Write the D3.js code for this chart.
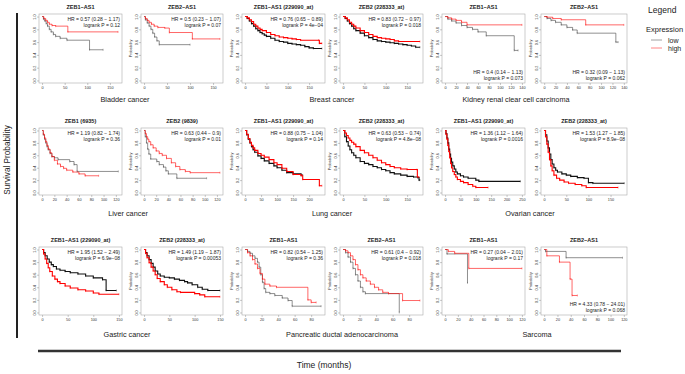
<!DOCTYPE html>
<html>
<head>
<meta charset="utf-8">
<script src="https://cdn.jsdelivr.net/npm/d3@7/dist/d3.min.js"></script>
<style>
  body { margin: 0; background: #fff; }
  svg { font-family: "Liberation Sans", Arial, sans-serif; }
</style>
</head>
<body>
<svg width="685" height="374"></svg>
<script>
// ---- data: [months, survival probability] step points, low vs high expression ----
const bladder1Low  = [[0,1],[3,0.96],[6,0.93],[9,0.89],[12,0.85],[16,0.8],[20,0.76],[25,0.72],[30,0.69],[40,0.66],[55,0.63],[105,0.48],[135,0.48]];
const bladder1High = [[0,1],[4,0.97],[8,0.94],[12,0.91],[16,0.88],[22,0.86],[30,0.85],[57,0.76],[168,0.76]];
const bladder2Low  = [[0,1],[3,0.95],[7,0.9],[11,0.85],[15,0.8],[19,0.74],[23,0.68],[28,0.62],[33,0.56],[100,0.56]];
const bladder2High = [[0,1],[3,0.97],[7,0.94],[11,0.91],[16,0.88],[22,0.85],[30,0.83],[45,0.82],[55,0.75],[105,0.65],[165,0.65]];

const breast1Low  = [[0,1],[5,0.97],[10,0.93],[15,0.89],[20,0.85],[25,0.81],[30,0.78],[35,0.75],[40,0.73],[45,0.71],[50,0.69],[60,0.66],[70,0.63],[80,0.61],[90,0.6],[100,0.58],[110,0.57],[120,0.56],[130,0.55],[140,0.53],[150,0.51],[160,0.5],[180,0.5]];
const breast1High = [[0,1],[5,0.98],[10,0.95],[15,0.92],[20,0.88],[25,0.85],[30,0.82],[35,0.8],[40,0.78],[50,0.75],[60,0.72],[70,0.7],[80,0.68],[90,0.67],[100,0.66],[110,0.65],[120,0.64],[130,0.63],[172,0.63],[174,0.58],[180,0.58]];
const breast2Low  = [[0,1],[5,0.97],[10,0.93],[15,0.89],[20,0.85],[25,0.81],[30,0.78],[40,0.74],[50,0.7],[60,0.67],[70,0.64],[80,0.62],[90,0.61],[100,0.6],[110,0.59],[120,0.58],[130,0.57],[140,0.56],[150,0.55],[160,0.54],[170,0.52],[180,0.52]];
const breast2High = [[0,1],[5,0.98],[10,0.95],[15,0.91],[20,0.88],[25,0.85],[30,0.82],[40,0.78],[50,0.75],[60,0.72],[70,0.69],[80,0.67],[90,0.66],[100,0.65],[110,0.64],[120,0.62],[130,0.61],[180,0.61]];

const kidney1Low  = [[0,1],[5,0.96],[12,0.93],[20,0.9],[30,0.86],[40,0.83],[50,0.8],[60,0.76],[75,0.7],[126,0.47],[133,0.47]];
const kidney1High = [[0,1],[5,0.98],[12,0.96],[20,0.94],[30,0.91],[40,0.87],[140,0.87]];
const kidney2Low  = [[0,1],[5,0.97],[12,0.94],[20,0.91],[30,0.87],[40,0.83],[50,0.79],[58,0.74],[126,0.6],[130,0.6]];
const kidney2High = [[0,1],[5,0.99],[15,0.97],[30,0.95],[73,0.87],[140,0.87]];

const liver1Low  = [[0,1],[2,0.93],[4,0.86],[6,0.8],[8,0.74],[10,0.69],[13,0.63],[16,0.58],[20,0.56],[26,0.53],[45,0.5],[52,0.45],[57,0.34],[124,0.34]];
const liver1High = [[0,1],[2,0.94],[4,0.88],[6,0.82],[8,0.76],[10,0.7],[13,0.64],[16,0.58],[20,0.52],[25,0.46],[30,0.42],[35,0.39],[40,0.36],[50,0.33],[60,0.3],[70,0.27],[92,0.27]];
const liver2Low  = [[0,1],[2,0.9],[4,0.8],[6,0.7],[8,0.62],[11,0.54],[21,0.5],[25,0.45],[32,0.41],[36,0.35],[40,0.3],[54,0.23],[103,0.23]];
const liver2High = [[0,1],[2,0.95],[4,0.9],[6,0.86],[8,0.82],[11,0.77],[15,0.72],[20,0.67],[25,0.63],[30,0.6],[37,0.55],[45,0.48],[52,0.42],[59,0.37],[68,0.34],[76,0.32],[125,0.32]];

const lung1Low  = [[0,1],[5,0.93],[10,0.86],[15,0.8],[20,0.74],[25,0.69],[30,0.65],[40,0.59],[50,0.55],[60,0.51],[75,0.47],[90,0.43],[100,0.4],[115,0.36],[130,0.32],[150,0.3],[175,0.28],[180,0.28]];
const lung1High = [[0,1],[5,0.94],[10,0.87],[15,0.81],[20,0.76],[25,0.72],[30,0.68],[40,0.63],[50,0.6],[60,0.57],[75,0.53],[90,0.48],[100,0.45],[115,0.39],[130,0.34],[150,0.29],[175,0.27],[180,0.21],[232,0.11],[240,0.11]];
const lung2Low  = [[0,1],[4,0.9],[8,0.82],[12,0.75],[16,0.69],[20,0.64],[25,0.6],[30,0.56],[40,0.5],[50,0.47],[60,0.45],[70,0.42],[80,0.4],[90,0.37],[100,0.35],[110,0.32],[120,0.3],[135,0.28],[150,0.26],[165,0.25],[175,0.24],[178,0.2],[180,0.2]];
const lung2High = [[0,1],[4,0.96],[8,0.92],[12,0.88],[16,0.84],[20,0.81],[25,0.78],[30,0.74],[40,0.68],[50,0.64],[60,0.6],[70,0.56],[80,0.52],[90,0.48],[100,0.45],[110,0.42],[120,0.4],[135,0.38],[150,0.37],[173,0.37],[174,0.25],[178,0.25]];

const ovarian1Low  = [[0,1],[3,0.95],[6,0.88],[9,0.8],[12,0.7],[15,0.62],[18,0.55],[21,0.49],[25,0.43],[30,0.38],[35,0.33],[40,0.3],[50,0.27],[60,0.25],[75,0.23],[100,0.2],[110,0.18],[245,0.18]];
const ovarian1High = [[0,1],[3,0.94],[6,0.86],[9,0.76],[12,0.66],[15,0.56],[18,0.47],[21,0.4],[25,0.34],[30,0.29],[35,0.25],[40,0.21],[50,0.18],[60,0.16],[75,0.13],[90,0.1],[100,0.08],[140,0.08]];
const ovarian2Low  = [[0,1],[3,0.93],[6,0.83],[9,0.72],[12,0.62],[15,0.53],[18,0.46],[22,0.4],[26,0.36],[30,0.33],[40,0.3],[50,0.28],[60,0.26],[75,0.24],[90,0.23],[100,0.16],[110,0.15],[181,0.15]];
const ovarian2High = [[0,1],[3,0.9],[6,0.78],[9,0.65],[12,0.53],[15,0.43],[18,0.35],[22,0.28],[28,0.23],[35,0.2],[45,0.17],[55,0.15],[70,0.13],[85,0.11],[95,0.08],[167,0.08]];

const gastric1Low  = [[0,1],[3,0.95],[6,0.9],[10,0.85],[14,0.8],[18,0.76],[22,0.73],[28,0.69],[35,0.67],[45,0.65],[55,0.63],[70,0.61],[85,0.58],[100,0.55],[118,0.52],[125,0.35],[145,0.35]];
const gastric1High = [[0,1],[3,0.93],[6,0.85],[9,0.78],[12,0.71],[15,0.65],[20,0.58],[25,0.53],[30,0.49],[35,0.46],[45,0.42],[55,0.39],[70,0.36],[85,0.34],[100,0.31],[111,0.29],[150,0.29]];
const gastric2Low  = [[0,1],[3,0.95],[6,0.9],[10,0.84],[14,0.78],[18,0.72],[22,0.66],[27,0.61],[32,0.58],[40,0.56],[50,0.55],[60,0.53],[70,0.51],[80,0.49],[86,0.47],[95,0.44],[106,0.4],[115,0.37],[126,0.35],[150,0.35]];
const gastric2High = [[0,1],[3,0.94],[6,0.87],[10,0.79],[14,0.72],[18,0.66],[22,0.6],[26,0.54],[32,0.49],[40,0.44],[46,0.4],[55,0.36],[65,0.33],[72,0.32],[100,0.3],[110,0.28],[120,0.25],[150,0.25]];

const pancreas1Low  = [[0,1],[3,0.97],[6,0.94],[9,0.9],[12,0.86],[15,0.8],[17,0.72],[19,0.6],[21,0.48],[23,0.38],[25,0.32],[30,0.3],[36,0.27],[45,0.23],[52,0.19],[57,0.1],[92,0.1]];
const pancreas1High = [[0,1],[3,0.95],[6,0.9],[9,0.84],[12,0.77],[15,0.7],[18,0.62],[21,0.53],[24,0.45],[30,0.42],[38,0.4],[76,0.2],[80,0.16],[86,0.16]];
const pancreas2Low  = [[0,1],[3,0.95],[6,0.88],[9,0.8],[12,0.7],[15,0.6],[18,0.5],[21,0.4],[24,0.33],[27,0.3],[68,0]];
const pancreas2High = [[0,1],[3,0.98],[6,0.95],[9,0.9],[12,0.84],[15,0.76],[18,0.68],[21,0.6],[24,0.55],[28,0.5],[33,0.45],[38,0.4],[43,0.36],[48,0.32],[55,0.3],[72,0.19],[93,0.19]];

const sarcoma1Low  = [[0,1],[3,0.93],[35,0.47]];
const sarcoma1High = [[0,1],[5,0.97],[15,0.94],[37,0.7],[120,0.7]];
const sarcoma2Low  = [[0,1],[2,0.97],[33,0.87],[118,0.87]];
const sarcoma2High = [[0,1],[4,0.9],[23,0.8],[39,0.53],[42,0.27],[50,0.27]];

// ---- panel labels ----
const titles = [
  "ZEB1\u2212AS1", "ZEB2\u2212AS1", "ZEB1\u2212AS1 (229090_at)", "ZEB2 (228333_at)", "ZEB1\u2212AS1", "ZEB2\u2212AS1",
  "ZEB1 (6935)", "ZEB2 (9839)", "ZEB1\u2212AS1 (229090_at)", "ZEB2 (228333_at)", "ZEB1\u2212AS1 (229090_at)", "ZEB2 (228333_at)",
  "ZEB1\u2212AS1 (229090_at)", "ZEB2 (228333_at)", "ZEB1\u2212AS1", "ZEB2\u2212AS1", "ZEB1\u2212AS1", "ZEB2\u2212AS1"
];
const hrLabels = [
  "HR = 0.57 (0.28 \u2212 1.17)", "HR = 0.5 (0.23 \u2212 1.07)", "HR = 0.76 (0.65 \u2212 0.89)", "HR = 0.83 (0.72 \u2212 0.97)", "HR = 0.4 (0.14 \u2212 1.13)", "HR = 0.32 (0.09 \u2212 1.13)",
  "HR = 1.19 (0.82 \u2212 1.74)", "HR = 0.63 (0.44 \u2212 0.9)", "HR = 0.88 (0.75 \u2212 1.04)", "HR = 0.63 (0.53 \u2212 0.74)", "HR = 1.36 (1.12 \u2212 1.64)", "HR = 1.53 (1.27 \u2212 1.85)",
  "HR = 1.95 (1.52 \u2212 2.49)", "HR = 1.49 (1.19 \u2212 1.87)", "HR = 0.82 (0.54 \u2212 1.25)", "HR = 0.61 (0.4 \u2212 0.92)", "HR = 0.27 (0.04 \u2212 2.01)", "HR = 4.33 (0.78 \u2212 24.01)"
];
const pLabels = [
  "logrank P = 0.12", "logrank P = 0.07", "logrank P = 4e\u221204", "logrank P = 0.018", "logrank P = 0.073", "logrank P = 0.062",
  "logrank P = 0.36", "logrank P = 0.01", "logrank P = 0.14", "logrank P = 4.8e\u221208", "logrank P = 0.0016", "logrank P = 8.9e\u221208",
  "logrank P = 6.9e\u221208", "logrank P = 0.00053", "logrank P = 0.36", "logrank P = 0.018", "logrank P = 0.17", "logrank P = 0.068"
];
const xMax = [170, 165, 180, 180, 140, 140, 125, 125, 240, 180, 250, 180, 150, 150, 93, 93, 120, 120];
const ticks50 = [0, 50, 100, 150];
const ticks20to140 = [0, 20, 40, 60, 80, 100, 120, 140];
const ticks20to120 = [0, 20, 40, 60, 80, 100, 120];
const ticks50to200 = [0, 50, 100, 150, 200];
const ticks50to250 = [0, 50, 100, 150, 200, 250];
const ticks20to80 = [0, 20, 40, 60, 80];
const xTicks = [ticks50, ticks50, ticks50, ticks50, ticks20to140, ticks20to140,
  ticks20to120, ticks20to120, ticks50to200, ticks50, ticks50to250, ticks50,
  ticks50, ticks50, ticks20to80, ticks20to80, ticks20to120, ticks20to120];
const yTicks = [0, 0.2, 0.4, 0.6, 0.8, 1.0];
const lowSeries = [bladder1Low, bladder2Low, breast1Low, breast2Low, kidney1Low, kidney2Low,
  liver1Low, liver2Low, lung1Low, lung2Low, ovarian1Low, ovarian2Low,
  gastric1Low, gastric2Low, pancreas1Low, pancreas2Low, sarcoma1Low, sarcoma2Low];
const highSeries = [bladder1High, bladder2High, breast1High, breast2High, kidney1High, kidney2High,
  liver1High, liver2High, lung1High, lung2High, ovarian1High, ovarian2High,
  gastric1High, gastric2High, pancreas1High, pancreas2High, sarcoma1High, sarcoma2High];
const bigCohort = [0,0,1,1,0,0, 0,0,1,1,1,1, 1,1,0,0,0,0];
const showProbLabel = [0,1,1,1,1,1, 0,1,1,1,1,0, 0,1,1,1,1,1];
const statsAtBottom = [0,0,0,0,1,1, 0,0,0,0,0,0, 0,0,0,0,0,1];

const cancers = ["Bladder cancer", "Breast cancer", "Kidney renal clear cell carcinoma",
  "Liver cancer", "Lung cancer", "Ovarian cancer",
  "Gastric cancer", "Pancreatic ductal adenocarcinoma", "Sarcoma"];
const cancerPos = [[125,102],[332,102],[516,102],[128,216],[332,216],[530,216],[127,337],[342,337],[537,337]];

const legendLabels = ["low", "high"];
const legendColors = ["#888", "#f66"];

// ---- layout ----
const colLeft = [39, 141, 242, 340, 442, 541];
const colRight = [122, 223, 325, 423, 525, 627];
const rowTop = [14, 128, 247];
const rowBottom = [83, 195, 315];

const svg = d3.select("svg");

// outer frame lines
svg.append("line").attr("x1", 17).attr("x2", 17).attr("y1", 13).attr("y2", 338)
  .attr("stroke", "#222").attr("stroke-width", 2);
svg.append("line").attr("x1", 38).attr("x2", 621).attr("y1", 351).attr("y2", 351)
  .attr("stroke", "#333").attr("stroke-width", 2.5);

svg.append("text").attr("transform", "translate(10,160) rotate(-90)")
  .attr("text-anchor", "middle").attr("font-size", 8.2).attr("fill", "#222")
  .text("Survival Probability");
svg.append("text").attr("x", 324).attr("y", 368)
  .attr("text-anchor", "middle").attr("font-size", 8.5).attr("fill", "#222")
  .text("Time (months)");

svg.selectAll(".cancer").data(cancers).enter().append("text")
  .attr("x", (d, i) => cancerPos[i][0]).attr("y", (d, i) => cancerPos[i][1])
  .attr("text-anchor", "middle").attr("font-size", 7.3).attr("fill", "#222")
  .text(d => d);

titles.forEach((title, i) => {
  var r = Math.floor(i / 6), c = i % 6;
  var left = colLeft[c], right = colRight[c], top = rowTop[r], bottom = rowBottom[r];
  var xm = xMax[i];
  var x = d3.scaleLinear().domain([-0.04 * xm, 1.04 * xm]).range([left, right]);
  var y = d3.scaleLinear().domain([-0.04, 1.04]).range([bottom, top]);
  var g = svg.append("g");

  g.append("rect").attr("x", left).attr("y", top)
    .attr("width", right - left).attr("height", bottom - top)
    .attr("fill", "none").attr("stroke", "#aaa").attr("stroke-width", 0.6);

  g.append("text").attr("x", (left + right) / 2).attr("y", top - 5)
    .attr("text-anchor", "middle").attr("font-size", 5.5).attr("font-weight", "bold")
    .attr("fill", "#222").text(title);

  var xa = g.append("g").attr("transform", "translate(0," + bottom + ")")
    .call(d3.axisBottom(x).tickValues(xTicks[i]).tickSize(2).tickPadding(1));
  xa.select(".domain").remove();
  xa.selectAll("line").attr("stroke", "#777").attr("stroke-width", 0.4);
  xa.selectAll("text").attr("font-size", 3.8).attr("fill", "#333").attr("font-family", null);

  var ya = g.append("g").attr("transform", "translate(" + left + ",0)")
    .call(d3.axisLeft(y).tickValues(yTicks).tickFormat(d3.format(".1f")).tickSize(2));
  ya.select(".domain").remove();
  ya.selectAll("line").attr("stroke", "#777").attr("stroke-width", 0.4);
  ya.selectAll("text").attr("x", null).attr("dy", null)
    .attr("text-anchor", "middle").attr("transform", "translate(-3.3,0) rotate(-90)")
    .attr("font-size", 3.8).attr("fill", "#333").attr("font-family", null);

  if (showProbLabel[i]) {
    g.append("text").attr("transform", "translate(" + (left - 9) + "," + ((top + bottom) / 2) + ") rotate(-90)")
      .attr("text-anchor", "middle").attr("font-size", 3.8).attr("fill", "#333").text("Probability");
  }

  var line = d3.line().x(d => x(d[0])).y(d => y(d[1])).curve(d3.curveStepAfter);
  var sw = bigCohort[i] ? 1.1 : 0.6;
  var lowColor = bigCohort[i] ? "#111" : "#444";
  [[lowSeries[i], lowColor], [highSeries[i], "#ff0000"]].forEach(function(s) {
    g.append("path").datum(s[0]).attr("d", line)
      .attr("fill", "none").attr("stroke", s[1]).attr("stroke-width", sw);
    g.selectAll(null).data(s[0].slice(1)).enter().append("line")
      .attr("x1", d => x(d[0])).attr("x2", d => x(d[0]))
      .attr("y1", d => y(d[1]) - 1).attr("y2", d => y(d[1]) + 1)
      .attr("stroke", s[1]).attr("stroke-width", 0.4);
  });

  var ty = statsAtBottom[i] ? bottom - 9 : top + 7;
  g.append("text").attr("x", right - 2).attr("y", ty)
    .attr("text-anchor", "end").attr("font-size", 5).attr("fill", "#222").text(hrLabels[i]);
  g.append("text").attr("x", right - 2).attr("y", ty + 6)
    .attr("text-anchor", "end").attr("font-size", 5).attr("fill", "#222").text(pLabels[i]);
});

// legend
svg.append("text").attr("x", 648).attr("y", 13).attr("font-size", 8.5).attr("fill", "#222").text("Legend");
svg.append("text").attr("x", 646).attr("y", 32).attr("font-size", 7.5).attr("fill", "#222").text("Expression");
var lg = svg.selectAll(".leg").data(legendLabels).enter().append("g")
  .attr("transform", (d, i) => "translate(651," + (40 + i * 8) + ")");
lg.append("line").attr("x1", 0).attr("x2", 11).attr("stroke", (d, i) => legendColors[i]).attr("stroke-width", 0.8);
lg.append("text").attr("x", 17).attr("y", 2.5).attr("font-size", 7).attr("fill", "#222").text(d => d);
</script>
</body>
</html>
